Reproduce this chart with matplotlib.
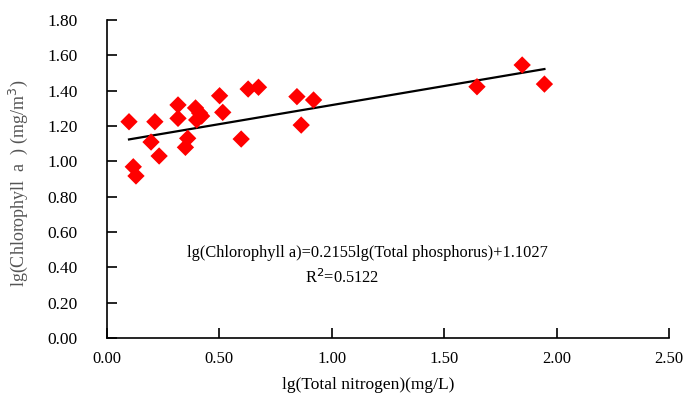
import matplotlib
matplotlib.use("Agg")
import matplotlib.pyplot as plt
import numpy as np

# lg(Total nitrogen) vs lg(Chlorophyll a)
tn = [0.098, 0.117, 0.129, 0.196, 0.213, 0.232, 0.316, 0.316, 0.359, 0.349,
      0.394, 0.412, 0.399, 0.421, 0.501, 0.515, 0.597, 0.628, 0.674, 0.845,
      0.864, 0.919, 1.646, 1.847, 1.946]
chla = [1.224, 0.969, 0.917, 1.109, 1.224, 1.030, 1.319, 1.243, 1.130, 1.079,
        1.302, 1.273, 1.234, 1.256, 1.371, 1.277, 1.126, 1.409, 1.419, 1.366,
        1.205, 1.347, 1.422, 1.545, 1.437]
slope = 0.2155
intercept = 1.1027
r2 = 0.5122
xticks = [0.0, 0.5, 1.0, 1.5, 2.0, 2.5]
yticks = [0.0, 0.2, 0.4, 0.6, 0.8, 1.0, 1.2, 1.4, 1.6, 1.8]

plt.rcParams['font.family'] = ['Liberation Serif', 'DejaVu Serif']

fig = plt.figure(figsize=(6.84, 4.07), dpi=100)
ax = fig.add_axes([0.1564, 0.1695, 0.8216, 0.7815])

ax.scatter(tn, chla, marker='D', s=78, color='#ff0000', edgecolors='none', zorder=3)
xl = np.array([min(tn), max(tn)])
ax.plot(xl, slope * xl + intercept, color='black', lw=1.6, zorder=2)

ax.set_xlim(0, 2.5)
ax.set_ylim(0, 1.8)
ax.set_xticks(xticks)
ax.set_yticks(yticks)
ax.set_xticklabels(['%.2f' % v for v in xticks])
ax.set_yticklabels(['%.2f' % v for v in yticks])
ax.tick_params(direction='in', length=7, width=1.2, labelsize=12.5, colors='black')
ax.tick_params(axis='x', labelsize=12)
ax.tick_params(axis='y', pad=21)
ax.tick_params(axis='x', pad=9)
ax.spines['top'].set_visible(False)
ax.spines['right'].set_visible(False)
for s in ['left', 'bottom']:
    ax.spines[s].set_linewidth(1.2)

ax.text(1.157, 0.48, 'lg(Chlorophyll a)=%.4flg(Total phosphorus)+%.4f' % (slope, intercept),
        ha='center', va='center', fontsize=11.8)
ax.text(1.045, 0.34, 'R$^2$=%.4f' % r2, ha='center', va='center', fontsize=11.8)

fig.text(368 / 684, 1 - 385 / 407, 'lg(Total nitrogen)(mg/L)', ha='center', va='center', fontsize=12.5)
fig.text(18 / 684, 1 - 183 / 407, 'lg(Chlorophyll  a  ) (mg/m$^3$)', ha='center', va='center',
         rotation=90, fontsize=13, color='#555555')

fig.savefig('out.png', dpi=100)
